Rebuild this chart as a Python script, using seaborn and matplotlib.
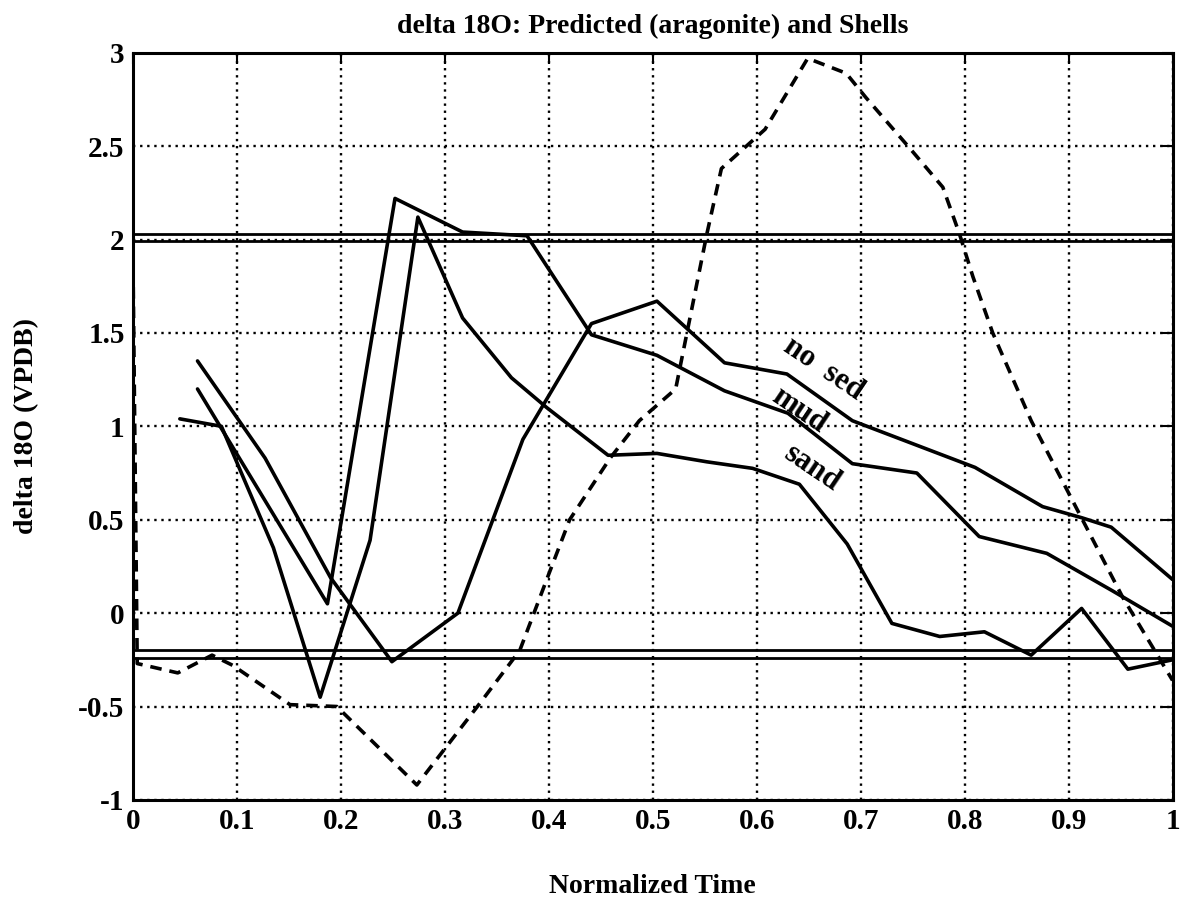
import matplotlib
matplotlib.use("Agg")
import matplotlib.pyplot as plt
import seaborn as sns
import pandas as pd

# ---------------- data ----------------
pred_x = [0.0, 0.004, 0.043, 0.076, 0.096, 0.151, 0.196, 0.273, 0.334, 0.372, 0.40, 0.42,
          0.459, 0.487, 0.522, 0.552, 0.566, 0.608, 0.649, 0.686, 0.705, 0.747, 0.779,
          0.795, 0.808, 0.827, 0.864, 0.904, 0.952, 1.0]
pred_y = [1.85, -0.27, -0.32, -0.225, -0.28, -0.49, -0.50, -0.92, -0.48, -0.20, 0.21, 0.50,
          0.83, 1.03, 1.20, 2.03, 2.38, 2.59, 2.97, 2.89, 2.76, 2.49, 2.28,
          2.03, 1.80, 1.50, 1.03, 0.60, 0.085, -0.36]

nosed_x = [0.062, 0.127, 0.19, 0.249, 0.3125, 0.375, 0.441, 0.504, 0.569, 0.629, 0.692,
           0.81, 0.875, 0.913, 0.941, 1.0]
nosed_y = [1.35, 0.83, 0.19, -0.26, 0.0, 0.93, 1.55, 1.67, 1.34, 1.28, 1.03,
           0.78, 0.57, 0.51, 0.46, 0.18]

mud_x = [0.062, 0.187, 0.252, 0.317, 0.379, 0.441, 0.504, 0.569, 0.63, 0.692, 0.754,
         0.814, 0.879, 0.942, 1.0]
mud_y = [1.20, 0.05, 2.22, 2.04, 2.02, 1.49, 1.38, 1.19, 1.07, 0.80, 0.75,
         0.41, 0.32, 0.12, -0.07]

sand_x = [0.045, 0.085, 0.135, 0.18, 0.228, 0.274, 0.317, 0.364, 0.398, 0.457, 0.504,
          0.552, 0.596, 0.641, 0.687, 0.73, 0.776, 0.819, 0.864, 0.9125, 0.957, 1.0]
sand_y = [1.04, 1.0, 0.35, -0.45, 0.39, 2.12, 1.58, 1.26, 1.10, 0.845, 0.855,
          0.81, 0.775, 0.69, 0.37, -0.055, -0.125, -0.10, -0.225, 0.025, -0.30, -0.25]

limit_levels = [2.03, 1.99, -0.20, -0.24]

x_ticks = [0, 0.1, 0.2, 0.3, 0.4, 0.5, 0.6, 0.7, 0.8, 0.9, 1.0]
x_tick_labels = ["0", "0.1", "0.2", "0.3", "0.4", "0.5", "0.6", "0.7", "0.8", "0.9", "1"]
y_ticks = [-1, -0.5, 0, 0.5, 1, 1.5, 2, 2.5, 3]
y_tick_labels = ["-1", "-0.5", "0", "0.5", "1", "1.5", "2", "2.5", "3"]

curve_labels = ["no sed", "mud", "sand"]
curve_label_pos = [(0.664, 1.31), (0.641, 1.085), (0.653, 0.775)]

title = "delta 18O: Predicted (aragonite) and Shells"
xlabel = "Normalized Time"
ylabel = "delta 18O (VPDB)"

# ---------------- style ----------------
sns.set_style("white")
plt.rcParams["font.family"] = ["Liberation Serif", "DejaVu Serif"]
plt.rcParams["font.weight"] = "bold"
for key in ["text.color", "axes.labelcolor", "xtick.color", "ytick.color", "axes.edgecolor"]:
    plt.rcParams[key] = "black"

fig = plt.figure(figsize=(11.88, 9.09), dpi=100)
ax = fig.add_axes([0.112, 0.120, 0.875, 0.822])

lw = 2.6
for xs, ys in [(nosed_x, nosed_y), (mud_x, mud_y), (sand_x, sand_y)]:
    df = pd.DataFrame({"x": xs, "y": ys})
    sns.lineplot(data=df, x="x", y="y", ax=ax, sort=False, estimator=None,
                 color="black", linewidth=lw)

dfp = pd.DataFrame({"x": pred_x, "y": pred_y})
sns.lineplot(data=dfp, x="x", y="y", ax=ax, sort=False, estimator=None,
             color="black", linewidth=lw)
ax.lines[-1].set_linestyle((0, (3.2, 2.2)))

for lv in limit_levels:
    ax.axhline(lv, color="black", linewidth=2.0)

ax.set_xlim(0, 1)
ax.set_ylim(-1, 3)
ax.set_xticks(x_ticks)
ax.set_xticklabels(x_tick_labels)
ax.set_yticks(y_ticks)
ax.set_yticklabels(y_tick_labels)
ax.grid(True, color="black", linestyle=(0, (1, 2.0)), linewidth=1.7)
ax.tick_params(axis="both", direction="in", length=8, width=1.5, labelsize=21,
               top=True, right=True, pad=6, colors="black")
for lab in ax.get_xticklabels() + ax.get_yticklabels():
    lab.set_fontweight("bold")
for sp in ax.spines.values():
    sp.set_linewidth(2.2)
    sp.set_color("black")

ax.set_title(title, fontsize=20, fontweight="bold", pad=14, color="black")
ax.set_xlabel(xlabel, fontsize=20, fontweight="bold", labelpad=28, color="black")
ax.set_ylabel(ylabel, fontsize=20, fontweight="bold", labelpad=28, color="black")

for txt, (tx, ty) in zip(curve_labels, curve_label_pos):
    label = txt.replace(" ", "  ")
    ax.text(tx, ty, label, rotation=-34, ha="center", va="center",
            fontsize=22, fontweight="bold", rotation_mode="anchor", color="black")

fig.savefig("out.png", dpi=100)
